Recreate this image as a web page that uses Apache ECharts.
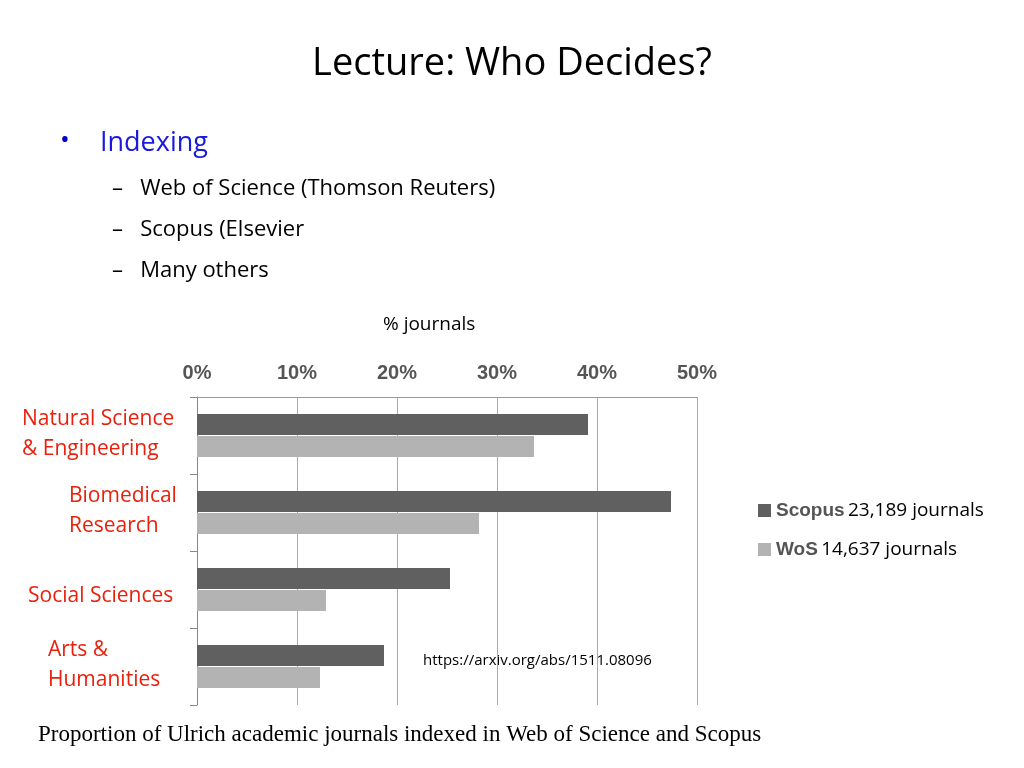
<!DOCTYPE html>
<html><head><meta charset="utf-8">
<script src="https://cdn.jsdelivr.net/npm/echarts@6/dist/echarts.min.js"></script>
<style>html,body{margin:0;padding:0;background:#fff}#c{width:1024px;height:768px}</style>
</head><body><div id="c"></div>
<script>
const categories = ["Natural Science\n& Engineering", "Biomedical\nResearch", "Social Sciences", "Arts &\nHumanities"];
const labelX = [22, 69, 28, 48];
const scopus = [39.1, 47.4, 25.3, 18.7];
const wos = [33.7, 28.2, 12.9, 12.3];
const xTicks = [0, 10, 20, 30, 40, 50];
const legendCounts = {Scopus: "23,189 journals", WoS: "14,637 journals"};

const chart = echarts.init(document.getElementById('c'));
const F = '"Open Sans", sans-serif';
chart.setOption({
  animation: false,
  title: {text: 'Lecture: Who Decides?', left: 'center', top: 40,
    textStyle: {fontFamily: F, fontSize: 38, fontWeight: 'normal', color: '#000'}},
  grid: {left: 197, right: 1024 - 697, top: 397, bottom: 768 - 705},
  xAxis: {type: 'value', position: 'top', min: 0, max: 50, interval: 10,
    axisLine: {show: true, lineStyle: {color: '#999'}},
    axisTick: {show: false},
    axisLabel: {formatter: v => xTicks.includes(v) ? v + '%' : '', margin: 14,
      fontFamily: '"Liberation Sans Narrow", "Liberation Sans", sans-serif', fontWeight: 'bold', fontSize: 20, color: '#555'},
    splitLine: {show: true, lineStyle: {color: '#aaa'}}},
  yAxis: {type: 'category', data: categories, inverse: true,
    axisLine: {show: true, lineStyle: {color: '#888'}},
    axisTick: {show: true, length: 7, lineStyle: {color: '#888'}},
    axisLabel: {show: false}},
  legend: {orient: 'vertical', left: 753, top: 496, itemGap: 20, itemWidth: 13, itemHeight: 13,
    icon: 'rect',
    formatter: n => '{a|' + n + '} {b|' + legendCounts[n] + '}',
    textStyle: {rich: {
      a: {fontFamily: '"Liberation Sans Narrow", "Liberation Sans", sans-serif', fontSize: 19, color: '#555', fontWeight: 'bold'},
      b: {fontFamily: F, fontSize: 19, color: '#000'}}}},
  series: [
    {name: 'Scopus', type: 'bar', data: scopus, barWidth: 21, barGap: '5%', itemStyle: {color: '#606060'}},
    {name: 'WoS', type: 'bar', data: wos, barWidth: 21, itemStyle: {color: '#b3b3b3'}}
  ],
  graphic: [
    {type: 'text', left: 60, top: 128, style: {text: '•', fontSize: 26, fill: '#0000cc', fontFamily: F}},
    {type: 'text', left: 100, top: 130, style: {text: 'Indexing', fontSize: 27, fill: '#1a1adb', fontFamily: F}},
    {type: 'text', left: 112, top: 178, style: {text: '–   Web of Science (Thomson Reuters)', fontSize: 22, fill: '#000', fontFamily: F}},
    {type: 'text', left: 112, top: 219, style: {text: '–   Scopus (Elsevier', fontSize: 22, fill: '#000', fontFamily: F}},
    {type: 'text', left: 112, top: 260, style: {text: '–   Many others', fontSize: 22, fill: '#000', fontFamily: F}},
    {type: 'text', left: 383, top: 315, style: {text: '% journals', fontSize: 19, fill: '#000', fontFamily: F}},
    {type: 'text', left: 423, top: 653, style: {text: 'https://arxiv.org/abs/1511.08096', fontSize: 15, fill: '#000', fontFamily: F}},
    {type: 'text', left: 38, top: 723, style: {text: 'Proportion of Ulrich academic journals indexed in Web of Science and Scopus', fontSize: 23, fill: '#000', fontFamily: '"Liberation Serif", serif'}}
  ]
});
const extra = categories.map((c, i) => {
  const y = chart.convertToPixel({yAxisIndex: 0}, c);
  const lines = c.split('\n').length;
  return {type: 'text', left: labelX[i], top: y - (lines === 2 ? 31 : 15) + (i === 2 ? 7 : 0),
    style: {text: c, fontSize: 21, lineHeight: 30, fill: '#e8200c', fontFamily: F}};
});
chart.setOption({graphic: chart.getOption().graphic[0].elements.concat(extra)});
</script></body></html>
